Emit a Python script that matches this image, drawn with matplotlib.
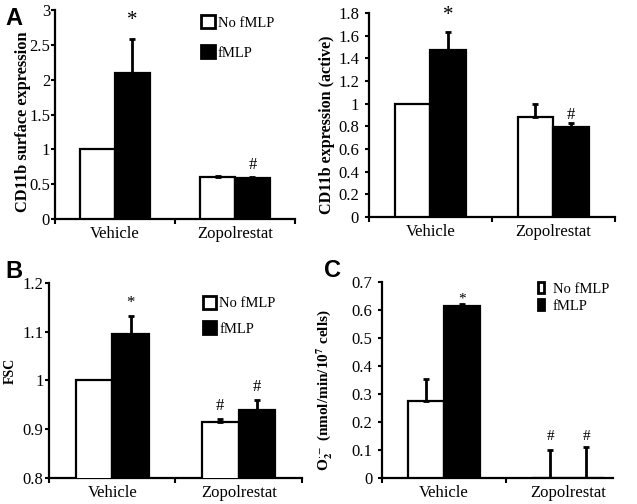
import matplotlib
matplotlib.use("Agg")
import matplotlib.pyplot as plt
from matplotlib.patches import Patch

plt.rcParams['font.family'] = ['Liberation Serif', 'DejaVu Serif']
plt.rcParams['mathtext.fontset'] = 'stix'

groups = ["Vehicle", "Zopolrestat"]
series = ["No fMLP", "fMLP"]

# Panel A (left): CD11b surface expression
a1_nofmlp = [1.0, 0.61]
a1_fmlp = [2.09, 0.59]
a1_nofmlp_err = [0.0, 0.01]
a1_fmlp_err = [0.50, 0.01]

# Panel A (right): CD11b expression (active)
a2_nofmlp = [1.0, 0.88]
a2_fmlp = [1.47, 0.79]
a2_nofmlp_err = [0.0, 0.12]
a2_fmlp_err = [0.16, 0.04]

# Panel B: FSC
b_nofmlp = [1.0, 0.915]
b_fmlp = [1.095, 0.94]
b_nofmlp_err = [0.0, 0.006]
b_fmlp_err = [0.038, 0.02]

# Panel C: O2- production
c_nofmlp = [0.275, 0.0]
c_fmlp = [0.615, 0.0]
c_nofmlp_err = [0.08, 0.10]
c_fmlp_err = [0.007, 0.11]

fig = plt.figure(figsize=(6.37, 5.04), dpi=100)

BW = 0.29
LW = 1.6


def errs(ax, xs, vs, es):
    for x, v, e in zip(xs, vs, es):
        if e > 0:
            ax.errorbar([x], [v], yerr=[[0], [e]], fmt='none', ecolor='black', elinewidth=2,
                        capsize=2.2, capthick=2, zorder=4)


def panel(rect, v0, v1, e0, e1, ylim, yticks, yfmt, ylabel, xmax, marks, label_xy,
          ylabel_size, ypad):
    ax = fig.add_axes(rect)
    xc = [0.5, 1.5]
    x0 = [c - BW / 2 for c in xc]
    x1 = [c + BW / 2 for c in xc]
    ax.bar(x0, v0, width=BW, color='white', edgecolor='black', linewidth=LW, zorder=3)
    ax.bar(x1, v1, width=BW, color='black', edgecolor='black', linewidth=LW, zorder=3)
    errs(ax, x0, v0, e0)
    errs(ax, x1, v1, e1)
    ax.set_xlim(0, xmax)
    ax.set_ylim(*ylim)
    ax.set_yticks(yticks)
    ax.set_yticklabels([yfmt(t) for t in yticks], fontsize=12)
    ax.set_xticks([0, 1, 2] if xmax >= 2 else [0, 1])
    ax.set_xticklabels([])
    ax.set_xticks(xc, minor=True)
    ax.set_xticklabels(groups, minor=True, fontsize=12)
    ax.tick_params(axis='x', which='minor', length=0, pad=5)
    ax.tick_params(axis='x', which='major', length=3.5, width=1.5, direction='out')
    ax.tick_params(axis='y', length=3, width=1.5, direction='out', pad=ypad)
    for s in ['top', 'right']:
        ax.spines[s].set_visible(False)
    for s in ['left', 'bottom']:
        ax.spines[s].set_linewidth(1.6)
    ax.set_ylabel(ylabel, fontsize=ylabel_size, fontweight='bold')
    ax.yaxis.set_label_coords(*label_xy)
    for (xi, yi, txt, fs) in marks:
        ax.text(xi, yi, txt, ha='center', va='bottom', fontsize=fs)
    return ax


def fmt_plain(t):
    s = ('%.1f' % t).rstrip('0').rstrip('.')
    return s if s else '0'


def legend(ax, anchor, fs, hl, hh, tp, ls):
    ax.legend(handles=[Patch(facecolor='white', edgecolor='black', linewidth=2),
                       Patch(facecolor='black', edgecolor='black', linewidth=2)],
              labels=series, loc='upper left', bbox_to_anchor=anchor, frameon=False,
              fontsize=fs, handlelength=hl, handleheight=hh, handletextpad=tp,
              labelspacing=ls, borderpad=0, borderaxespad=0)


# Panel A left
axA = panel([0.0863, 0.5655, 0.377, 0.4145], a1_nofmlp, a1_fmlp, a1_nofmlp_err, a1_fmlp_err,
            (0, 3), [0, 0.5, 1, 1.5, 2, 2.5, 3], fmt_plain, 'CD11b surface expression', 2,
            [(0.5 + BW / 2, a1_fmlp[0] + a1_fmlp_err[0] + 0.12, '*', 15),
             (1.5 + BW / 2, a1_fmlp[1] + a1_fmlp_err[1] + 0.06, '#', 12)],
            (-0.1, 0.465), 11.8, 0.5)
legend(axA, (0.61, 0.975), 10.5, 0.9, 1.0, 0.2, 1.05)

# Panel A right
axA2 = panel([0.579, 0.5694, 0.386, 0.405], a2_nofmlp, a2_fmlp, a2_nofmlp_err, a2_fmlp_err,
             (0, 1.8), [0, 0.2, 0.4, 0.6, 0.8, 1, 1.2, 1.4, 1.6, 1.8], fmt_plain,
             'CD11b expression (active)', 2,
             [(0.5 + BW / 2, a2_fmlp[0] + a2_fmlp_err[0] + 0.06, '*', 15),
              (1.5 + BW / 2, a2_fmlp[1] + a2_fmlp_err[1] + 0.0, '#', 12)],
             (-0.138, 0.45), 11.6, 4)

# Panel B
axB = panel([0.077, 0.0516, 0.397, 0.387], b_nofmlp, b_fmlp, b_nofmlp_err, b_fmlp_err,
            (0.8, 1.2), [0.8, 0.9, 1.0, 1.1, 1.2], lambda t: fmt_plain(round(t, 1)), 'FSC', 2,
            [(0.5 + BW / 2, b_fmlp[0] + b_fmlp_err[0] + 0.01, '*', 12),
             (1.5 - BW / 2, b_nofmlp[1] + b_nofmlp_err[1] + 0.01, '#', 12),
             (1.5 + BW / 2, b_fmlp[1] + b_fmlp_err[1] + 0.01, '#', 12)],
            (-0.126, 0.55), 10, 1)
legend(axB, (0.61, 0.935), 10.5, 0.9, 1.0, 0.2, 0.75)

# Panel C
axC = panel([0.5997, 0.0516, 0.3626, 0.389], c_nofmlp, c_fmlp, c_nofmlp_err, c_fmlp_err,
            (0, 0.7), [0, 0.1, 0.2, 0.3, 0.4, 0.5, 0.6, 0.7], fmt_plain,
            r'O$_\mathbf{2}^{\cdot-}$ (nmol/min/10$^\mathbf{7}$ cells)', 1.86,
            [(0.5 + BW / 2, c_fmlp[0] + c_fmlp_err[0] - 0.005, '*', 11),
             (1.5 - BW / 2, c_nofmlp[1] + c_nofmlp_err[1] + 0.025, '#', 11),
             (1.5 + BW / 2, c_fmlp[1] + c_fmlp_err[1] + 0.015, '#', 11)],
            (-0.205, 0.45), 11, 4)
legend(axC, (0.675, 1.0), 10.5, 0.45, 0.8, 0.55, 0.25)

# Panel letters
for (x, y, t) in [(0.008, 0.986, 'A'), (0.008, 0.484, 'B'), (0.509, 0.486, 'C')]:
    fig.text(x, y, t, fontsize=17, fontweight='bold', family='Liberation Sans',
             ha='left', va='top')

fig.savefig('out.png', dpi=100)
